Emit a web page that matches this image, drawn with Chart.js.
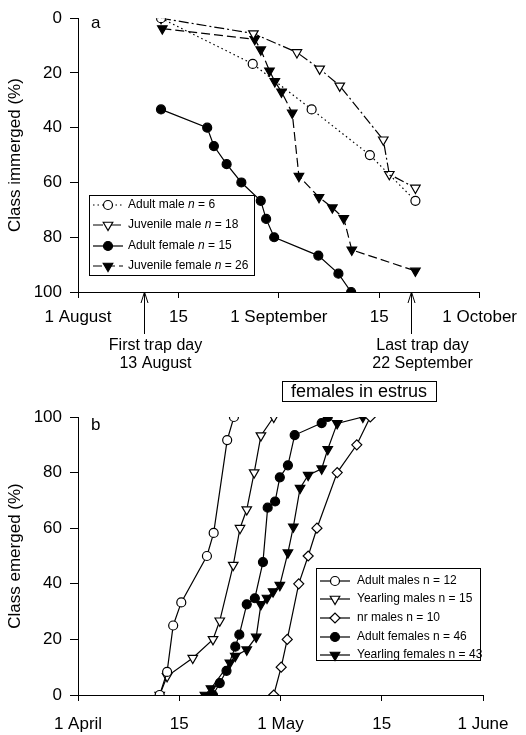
<!DOCTYPE html>
<html>
<head>
<meta charset="utf-8">
<script src="https://cdn.jsdelivr.net/npm/chart.js@4.4.1/dist/chart.umd.min.js"></script>
<style>
  html, body { margin: 0; padding: 0; background: #fff; }
  #wrap { position: relative; width: 526px; height: 735px; }
  canvas { position: absolute; left: 0; }
  #chartA { top: 0; }
  #chartB { top: 375px; }
</style>
</head>
<body>
<div id="wrap">
  <canvas id="chartA" width="526" height="375"></canvas>
  <canvas id="chartB" width="526" height="360"></canvas>
</div>
<script>
// panel a: days counted from 1 August
const aTickLabels = ['1 August', '15', '1 September', '15', '1 October'];
const aLegend = ['Adult male n = 6', 'Juvenile male n = 18', 'Adult female n = 15', 'Juvenile female n = 26'];
const aAdultMaleDay = [12.4, 26.1, 34.9, 43.6, 50.4];
const aAdultMaleVal = [0, 16.7, 33.3, 50, 66.7];
const aJuvMaleDay = [12.4, 26.2, 32.7, 36.1, 39.1, 45.6, 46.5, 50.4];
const aJuvMaleVal = [0, 5.6, 12.5, 18.5, 24.7, 44.4, 57, 62];
const aAdultFemDay = [12.4, 19.3, 20.3, 22.2, 24.4, 27.3, 28.1, 29.3, 35.9, 38.9, 40.8];
const aAdultFemVal = [33.3, 40, 46.7, 53.3, 60, 66.7, 73.3, 80, 86.7, 93.3, 100];
const aJuvFemDay = [12.6, 26.4, 27.3, 28.6, 29.4, 30.4, 32.0, 33.0, 36.0, 38.0, 39.7, 40.9, 50.4];
const aJuvFemVal = [3.8, 7.7, 11.5, 19.2, 23.1, 26.9, 34.6, 57.7, 65.4, 69.2, 73.1, 84.6, 92.3];
const trapDays = [9.9, 49.8];
const trapLabels = [['First trap day', '13 August'], ['Last trap day', '22 September']];

// panel b: days counted from 1 April
const bTickLabels = ['1 April', '15', '1 May', '15', '1 June'];
const bLegend = ['Adult males n = 12', 'Yearling males n = 15', 'nr males n = 10', 'Adult females n = 46', 'Yearling females n = 43'];
const bAdultMaleDay = [12.1, 13.2, 14.1, 15.3, 19.1, 20.1, 22.1, 23.1];
const bAdultMaleVal = [0, 8.3, 25, 33.3, 50, 58.3, 91.7, 100];
const bYrlMaleDay = [12.1, 13.2, 17.0, 20.0, 21.0, 23.0, 24.0, 25.0, 26.1, 27.1, 29.0];
const bYrlMaleVal = [0, 6.7, 13.3, 20, 26.7, 46.7, 60, 66.7, 80, 93.3, 100];
const bNrMaleDay = [29.0, 30.1, 31.0, 32.7, 34.1, 35.4, 38.4, 41.3, 43.3];
const bNrMaleVal = [0, 10, 20, 40, 50, 60, 80, 90, 100];
const bAdultFemDay = [20.0, 21.0, 22.0, 23.3, 23.9, 25.0, 26.2, 27.4, 28.1, 29.2, 29.9, 31.1, 32.1, 36.1, 37.0];
const bAdultFemVal = [0, 4.3, 8.7, 17.4, 21.7, 32.6, 34.8, 47.8, 67.4, 69.6, 78.3, 82.6, 93.5, 97.8, 100];
const bYrlFemDay = [18.8, 19.7, 22.5, 23.3, 25.0, 26.4, 27.1, 28.0, 28.9, 29.9, 31.1, 31.9, 32.9, 34.1, 36.1, 37.0, 38.4, 42.2];
const bYrlFemVal = [0, 2.3, 11.6, 14, 16.3, 20.9, 32.6, 34.9, 37.2, 39.5, 51.2, 60.5, 74.4, 79.1, 81.4, 88.4, 97.7, 100];

const FONT = 'Arial, "Liberation Sans", sans-serif';
Chart.defaults.font.family = FONT;
Chart.defaults.color = '#000';

const aStyles = [
  { style: 'circle', r: 4.5, fill: '#fff', dash: [1.5, 3] },
  { style: 'triangle', rot: 180, r: 5.5, fill: '#fff', dash: [10, 3, 2, 3] },
  { style: 'circle', r: 4.5, fill: '#000', dash: [] },
  { style: 'triangle', rot: 180, r: 5.5, fill: '#000', dash: [9, 4] }
];
const bStyles = [
  { style: 'circle', r: 4.5, fill: '#fff', dash: [] },
  { style: 'triangle', rot: 180, r: 5.5, fill: '#fff', dash: [] },
  { style: 'rectRot', r: 5, fill: '#fff', dash: [] },
  { style: 'circle', r: 4.5, fill: '#000', dash: [] },
  { style: 'triangle', rot: 180, r: 5.5, fill: '#000', dash: [] }
];

function pts(days, vals) {
  return days.map((d, i) => ({ x: d, y: vals[i] }));
}

function series(label, days, vals, st) {
  return {
    label: label,
    data: pts(days, vals),
    borderColor: '#000',
    borderWidth: 1.2,
    borderDash: st.dash,
    pointStyle: st.style,
    pointRotation: st.rot || 0,
    pointRadius: st.r,
    pointBackgroundColor: st.fill,
    pointBorderColor: '#000',
    pointBorderWidth: 1.2,
    tension: 0,
    fill: false
  };
}

function axes(tickLabels, reverse, title, xHeight, xPad) {
  return {
    x: {
      type: 'linear', min: 0, max: 60,
      ticks: {
        stepSize: 15, autoSkip: false, maxRotation: 0, padding: xPad,
        font: { size: 17 },
        callback: v => tickLabels[Math.round(v / 15)]
      },
      grid: { drawOnChartArea: false, tickLength: 6, color: '#000' },
      border: { color: '#000' },
      afterFit: s => { s.height = xHeight; }
    },
    y: {
      min: 0, max: 100, reverse: reverse,
      ticks: { stepSize: 20, padding: 8, font: { size: 17 } },
      grid: { drawOnChartArea: false, tickLength: 8, color: '#000' },
      border: { color: '#000' },
      title: { display: true, text: title, font: { size: 17 }, padding: { top: 5, bottom: 0 } },
      afterFit: s => { s.width = 78; }
    }
  };
}

function marker(ctx, st, x, y) {
  ctx.fillStyle = st.fill;
  ctx.strokeStyle = '#000';
  ctx.lineWidth = 1.2;
  Chart.helpers.drawPoint(ctx, { pointStyle: st.style, rotation: st.rot || 0, radius: st.r, borderWidth: 1.2 }, x, y);
}

function drawLegend(ctx, box, rows, labels, styles, italicN) {
  ctx.save();
  ctx.strokeStyle = '#000';
  ctx.lineWidth = 1;
  ctx.setLineDash([]);
  ctx.strokeRect(box.x + 0.5, box.y + 0.5, box.w, box.h);
  ctx.textAlign = 'left';
  ctx.textBaseline = 'middle';
  labels.forEach((lab, i) => {
    const y = rows[i], st = styles[i];
    ctx.lineWidth = 1.2;
    ctx.setLineDash(st.dash);
    ctx.beginPath();
    ctx.moveTo(box.lineX0, y);
    ctx.lineTo(box.lineX1, y);
    ctx.stroke();
    ctx.setLineDash([]);
    marker(ctx, st, box.markX, y);
    ctx.fillStyle = '#000';
    ctx.font = '12px ' + FONT;
    if (italicN) {
      const k = lab.indexOf(' n = ');
      const a = lab.slice(0, k + 1), b = lab.slice(k + 2);
      let x = box.textX;
      ctx.fillText(a, x, y); x += ctx.measureText(a).width;
      ctx.font = 'italic 12px ' + FONT;
      ctx.fillText('n', x, y); x += ctx.measureText('n').width;
      ctx.font = '12px ' + FONT;
      ctx.fillText(b, x, y);
    } else {
      ctx.fillText(lab, box.textX, y);
    }
  });
  ctx.restore();
}

const panelA = {
  id: 'panelA',
  afterDraw(chart) {
    const ctx = chart.ctx, xs = chart.scales.x, area = chart.chartArea;
    ctx.save();
    ctx.fillStyle = '#000';
    ctx.strokeStyle = '#000';
    ctx.lineWidth = 1;
    ctx.font = '17px ' + FONT;
    ctx.textAlign = 'left';
    ctx.textBaseline = 'middle';
    ctx.fillText('a', area.left + 13, area.top + 5);
    trapDays.forEach((d, i) => {
      const x = Math.round(xs.getPixelForValue(d)) + 0.5;
      const y0 = area.bottom;
      ctx.beginPath();
      ctx.moveTo(x, y0 + 42);
      ctx.lineTo(x, y0);
      ctx.moveTo(x - 3.5, y0 + 11);
      ctx.lineTo(x, y0);
      ctx.lineTo(x + 3.5, y0 + 11);
      ctx.stroke();
      ctx.font = '16px ' + FONT;
      ctx.textAlign = 'center';
      ctx.fillText(trapLabels[i][0], x + 11, y0 + 54);
      ctx.fillText(trapLabels[i][1], x + 11, y0 + 72);
    });
    ctx.restore();
    drawLegend(ctx, { x: 89, y: 195, w: 165, h: 80, lineX0: 93, lineX1: 123, markX: 108, textX: 128 },
      [205, 225, 246, 266], aLegend, aStyles, true);
  }
};

const panelB = {
  id: 'panelB',
  afterDraw(chart) {
    const ctx = chart.ctx, area = chart.chartArea;
    ctx.save();
    ctx.fillStyle = '#000';
    ctx.strokeStyle = '#000';
    ctx.lineWidth = 1;
    ctx.font = '17px ' + FONT;
    ctx.textAlign = 'left';
    ctx.textBaseline = 'middle';
    ctx.fillText('b', area.left + 13, area.top + 8);
    ctx.strokeRect(282.5, 6.5, 154, 20);
    ctx.font = '18px ' + FONT;
    ctx.textAlign = 'center';
    ctx.fillText('females in estrus', 359, 17);
    ctx.restore();
    drawLegend(ctx, { x: 316, y: 193, w: 164, h: 92, lineX0: 320, lineX1: 350, markX: 335, textX: 357 },
      [206, 224, 243, 262, 280], bLegend, bStyles, false);
  }
};

const common = {
  responsive: false,
  animation: false,
  plugins: { legend: { display: false }, tooltip: { enabled: false } }
};

new Chart(document.getElementById('chartA'), {
  type: 'line',
  data: {
    datasets: [
      series(aLegend[0], aAdultMaleDay, aAdultMaleVal, aStyles[0]),
      series(aLegend[1], aJuvMaleDay, aJuvMaleVal, aStyles[1]),
      series(aLegend[2], aAdultFemDay, aAdultFemVal, aStyles[2]),
      series(aLegend[3], aJuvFemDay, aJuvFemVal, aStyles[3])
    ]
  },
  options: Object.assign({}, common, {
    layout: { padding: { top: 17, right: 43, left: 0, bottom: 0 } },
    scales: axes(aTickLabels, true, 'Class immerged (%)', 83, 9)
  }),
  plugins: [panelA]
});

new Chart(document.getElementById('chartB'), {
  type: 'line',
  data: {
    datasets: [
      series(bLegend[0], bAdultMaleDay, bAdultMaleVal, bStyles[0]),
      series(bLegend[1], bYrlMaleDay, bYrlMaleVal, bStyles[1]),
      series(bLegend[2], bNrMaleDay, bNrMaleVal, bStyles[2]),
      series(bLegend[3], bAdultFemDay, bAdultFemVal, bStyles[3]),
      series(bLegend[4], bYrlFemDay, bYrlFemVal, bStyles[4])
    ]
  },
  options: Object.assign({}, common, {
    layout: { padding: { top: 42, right: 43, left: 0, bottom: 0 } },
    scales: axes(bTickLabels, false, 'Class emerged (%)', 40, 13)
  }),
  plugins: [panelB]
});
</script>
</body>
</html>
